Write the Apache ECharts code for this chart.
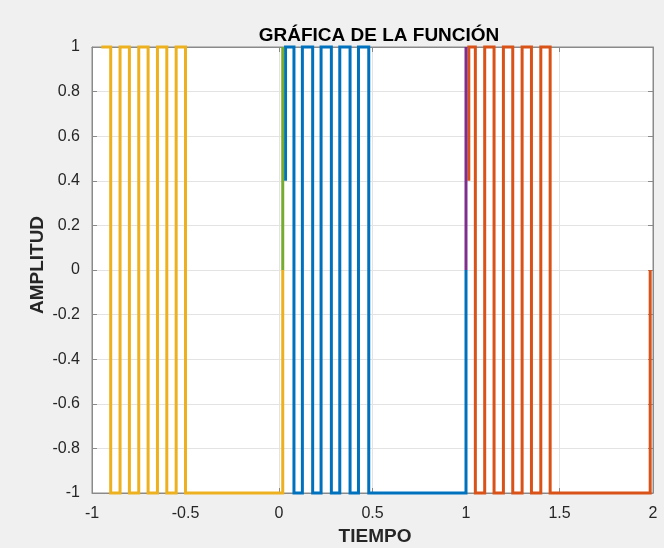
<!DOCTYPE html>
<html>
<head>
<meta charset="utf-8">
<script src="https://cdn.jsdelivr.net/npm/echarts@6/dist/echarts.min.js"></script>
<style>
html,body{margin:0;padding:0;background:#f0f0f0;}
#chart{width:664px;height:548px;}
</style>
</head>
<body>
<div id="chart"></div>
<script>
// Data (x = TIEMPO, y = AMPLITUD)
const xTicks = [-1, -0.5, 0, 0.5, 1, 1.5, 2];
const yTicks = [-1, -0.8, -0.6, -0.4, -0.2, 0, 0.2, 0.4, 0.6, 0.8, 1];

const bluePts = [
  [0.035,0.4],[0.035,1],[0.08,1],[0.08,-1],[0.125,-1],[0.125,1],[0.18,1],[0.18,-1],
  [0.225,-1],[0.225,1],[0.28,1],[0.28,-1],[0.325,-1],[0.325,1],[0.38,1],[0.38,-1],
  [0.425,-1],[0.425,1],[0.48,1],[0.48,-1],[1,-1],[1,0]
];
const orangePts = [
  [1.015,0.4],[1.015,1],[1.05,1],[1.05,-1],[1.1,-1],[1.1,1],[1.15,1],[1.15,-1],
  [1.2,-1],[1.2,1],[1.25,1],[1.25,-1],[1.3,-1],[1.3,1],[1.35,1],[1.35,-1],
  [1.4,-1],[1.4,1],[1.45,1],[1.45,-1],[1.985,-1],[1.985,0]
];
const yellowPts = [
  [-0.95,1],[-0.9,1],[-0.9,-1],[-0.85,-1],[-0.85,1],[-0.8,1],[-0.8,-1],
  [-0.75,-1],[-0.75,1],[-0.7,1],[-0.7,-1],[-0.65,-1],[-0.65,1],[-0.6,1],[-0.6,-1],
  [-0.55,-1],[-0.55,1],[-0.5,1],[-0.5,-1],[0.02,-1],[0.02,0]
];
const purplePts = [[1,0],[1,1]];
const greenPts = [[0.02,0],[0.02,1]];

const seriesDefs = [
  {name:'s1', data:bluePts,   color:'#0072BD'},
  {name:'s2', data:orangePts, color:'#D95319'},
  {name:'s3', data:yellowPts, color:'#EDB120'},
  {name:'s4', data:purplePts, color:'#7E2F8E'},
  {name:'s5', data:greenPts,  color:'#77AC30'}
];

const FONT = 'Liberation Sans, Arial, Helvetica, sans-serif';
const AX = '#8a8a8a';
const fmt = v => String(Math.round(v*10)/10);

const chart = echarts.init(document.getElementById('chart'), null, {renderer:'canvas'});
chart.setOption({
  backgroundColor:'#f0f0f0',
  animation:false,
  title:{
    text:'GRÁFICA DE LA FUNCIÓN',
    left:374, top:21, textAlign:'center',
    textStyle:{fontFamily:FONT, fontWeight:'bold', fontSize:19, color:'#000'}
  },
  graphic:[
    {type:'text', x:375, y:537, z:10,
     style:{text:'TIEMPO', fontFamily:FONT, fontWeight:'bold', fontSize:19, fill:'#262626', align:'center', verticalAlign:'middle'}},
    {type:'text', x:38, y:265, rotation:Math.PI/2, z:10,
     style:{text:'AMPLITUD', fontFamily:FONT, fontWeight:'bold', fontSize:19, fill:'#262626', align:'center', verticalAlign:'middle'}}
  ],
  grid:{left:92, top:47, width:561, height:446, show:true, backgroundColor:'#ffffff', borderColor:AX, borderWidth:1},
  xAxis:[
    {type:'value', min:xTicks[0], max:xTicks[xTicks.length-1], interval:0.5, position:'bottom',
     axisLine:{show:true, onZero:false, lineStyle:{color:AX, width:1}},
     axisTick:{show:true, inside:true, length:5, lineStyle:{color:AX}},
     axisLabel:{fontFamily:FONT, fontSize:16, color:'#262626', margin:13, formatter:fmt},
     splitLine:{show:true, lineStyle:{color:'#e3e3e3', width:1}}},
    {type:'value', min:xTicks[0], max:xTicks[xTicks.length-1], interval:0.5, position:'top',
     axisLine:{show:true, onZero:false, lineStyle:{color:AX, width:1}},
     axisTick:{show:true, inside:true, length:5, lineStyle:{color:AX}},
     axisLabel:{show:false}, splitLine:{show:false}}
  ],
  yAxis:[
    {type:'value', min:yTicks[0], max:yTicks[yTicks.length-1], interval:0.2, position:'left',
     axisLine:{show:true, onZero:false, lineStyle:{color:AX, width:1}},
     axisTick:{show:true, inside:true, length:5, lineStyle:{color:AX}},
     axisLabel:{fontFamily:FONT, fontSize:16, color:'#262626', margin:12, formatter:fmt},
     splitLine:{show:true, lineStyle:{color:'#e3e3e3', width:1}}},
    {type:'value', min:yTicks[0], max:yTicks[yTicks.length-1], interval:0.2, position:'right',
     axisLine:{show:true, onZero:false, lineStyle:{color:AX, width:1}},
     axisTick:{show:true, inside:true, length:5, lineStyle:{color:AX}},
     axisLabel:{show:false}, splitLine:{show:false}}
  ],
  series: seriesDefs.map(s => ({
    name:s.name, type:'line', data:s.data, xAxisIndex:0, yAxisIndex:0,
    showSymbol:false, symbol:'none', clip:false,
    lineStyle:{color:s.color, width:3, join:'miter', cap:'butt'},
    emphasis:{disabled:true}
  }))
});
</script>
</body>
</html>
